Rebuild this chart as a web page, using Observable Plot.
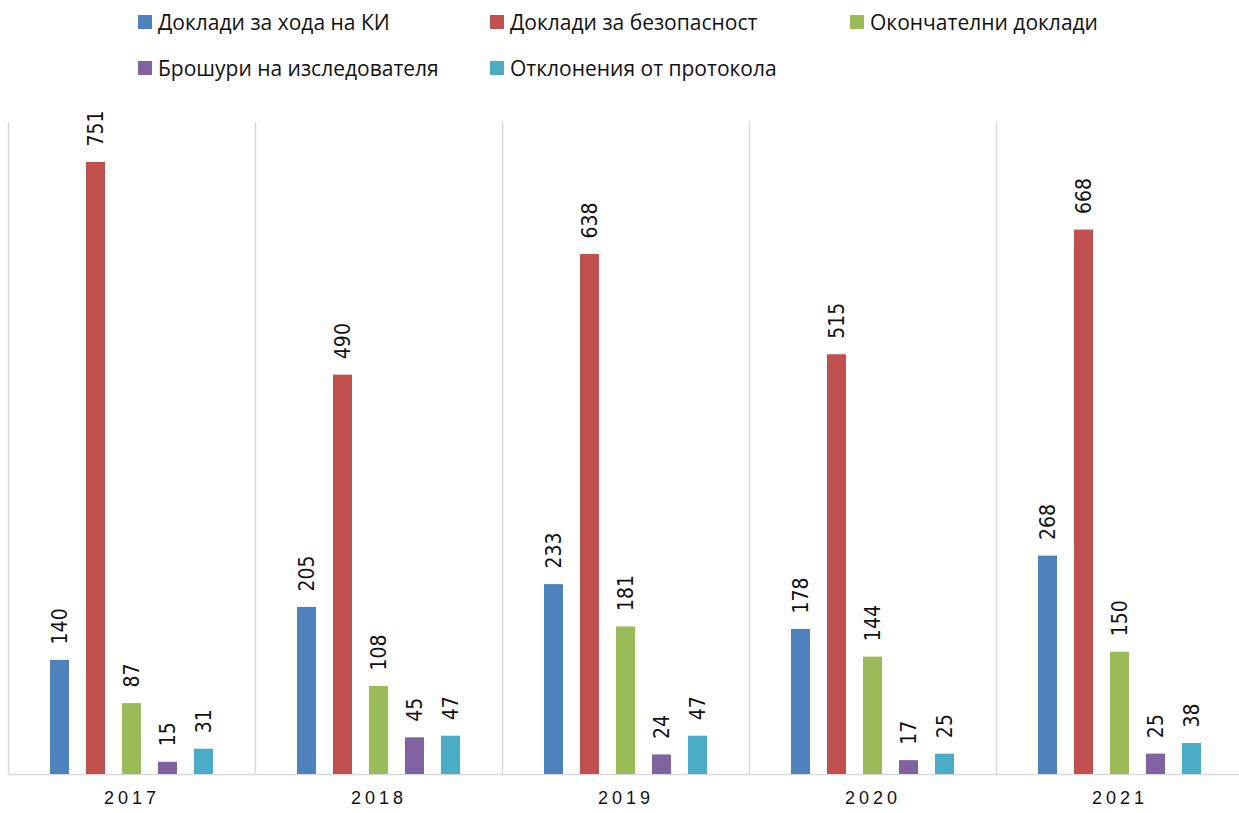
<!DOCTYPE html>
<html>
<head>
<meta charset="utf-8">
<script src="https://cdn.jsdelivr.net/npm/d3@7"></script>
<script src="https://cdn.jsdelivr.net/npm/@observablehq/plot@0.6"></script>
<style>
  html, body { margin: 0; padding: 0; background: #fff; }
  body { width: 1239px; height: 813px; overflow: hidden; font-family: "Open Sans", sans-serif; }
  #legend { position: relative; height: 100px; }
  .item { position: absolute; display: flex; align-items: center; font-size: 21px; line-height: 28px; color: #111; white-space: nowrap; }
  .sw { width: 14px; height: 14px; margin-right: 6px; }
  #chart svg { display: block; max-width: none; }
  #chart [aria-label="fx-axis tick label"] text { letter-spacing: 4px; }
</style>
</head>
<body>
<div id="legend"></div>
<div id="chart"></div>
<script>
// Report counts per year, by report type
const years = ["2017", "2018", "2019", "2020", "2021"];
const series = [
  "Доклади за хода на КИ",
  "Доклади за безопасност",
  "Окончателни доклади",
  "Брошури на изследователя",
  "Отклонения от протокола"
];
const colors = ["#4f81bd", "#c0504d", "#9bbb59", "#8064a2", "#4bacc6"];

const progressReports = [140, 205, 233, 178, 268];
const safetyReports = [751, 490, 638, 515, 668];
const finalReports = [87, 108, 181, 144, 150];
const investigatorBrochures = [15, 45, 24, 17, 25];
const protocolDeviations = [31, 47, 47, 25, 38];

const valuesBySeries = [progressReports, safetyReports, finalReports, investigatorBrochures, protocolDeviations];

const data = [];
years.forEach((year, i) => {
  series.forEach((s, j) => {
    data.push({year, series: s, value: valuesBySeries[j][i]});
  });
});

// Legend: three columns, wrapping onto a second row
const legendPos = [
  [138, 8], [490, 8], [850, 8],
  [138, 54], [490, 54]
];
const legend = document.getElementById("legend");
series.forEach((s, j) => {
  const el = document.createElement("div");
  el.className = "item";
  el.style.left = legendPos[j][0] + "px";
  el.style.top = legendPos[j][1] + "px";
  el.innerHTML = `<span class="sw" style="background:${colors[j]}"></span><span>${s}</span>`;
  legend.appendChild(el);
});

const chart = Plot.plot({
  width: 1243,
  height: 713,
  marginTop: 22,
  marginBottom: 39,
  marginLeft: 8,
  marginRight: 0,
  style: {fontFamily: "DejaVu Sans Condensed, sans-serif", background: "#fff", overflow: "visible"},
  fx: {domain: years, padding: 0, round: false, label: null, axis: null},
  x: {domain: series, paddingInner: 0.472, paddingOuter: 1.167, round: false, axis: null},
  y: {domain: [0, 800], axis: null},
  color: {domain: series, range: colors},
  marks: [
    Plot.frame({anchor: "left", stroke: "#d9d9d9", strokeWidth: 1.5}),
    Plot.ruleY([0], {stroke: "#d9d9d9", strokeWidth: 1.5}),
    Plot.barY(data, {fx: "year", x: "series", y: "value", fill: "series"}),
    Plot.text(data, {
      fx: "year", x: "series", y: "value", text: d => String(d.value),
      rotate: -90, textAnchor: "start", dy: -16,
      fontSize: 21, fill: "#111"
    }),
    Plot.axisFx({
      anchor: "bottom", tickSize: 0, tickPadding: 17, label: null,
      fontSize: 18, fill: "#111", fontFamily: "Liberation Sans, sans-serif"
    })
  ]
});
document.getElementById("chart").appendChild(chart);
</script>
</body>
</html>
